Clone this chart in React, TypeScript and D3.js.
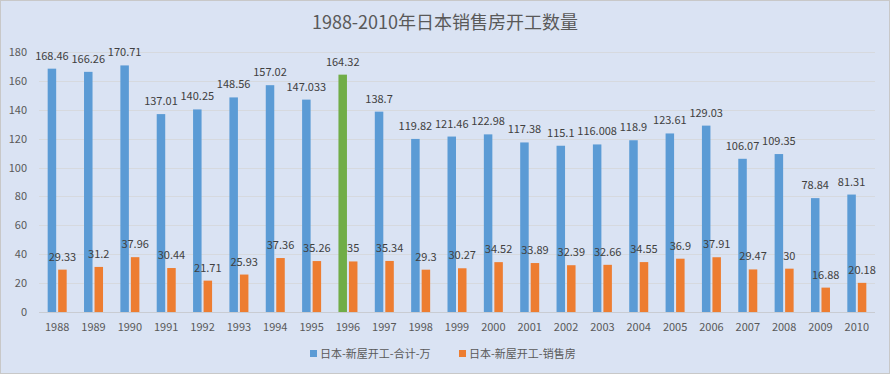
import React, { useEffect, useRef } from "react";
import * as d3 from "d3";

const years = ["1988", "1989", "1990", "1991", "1992", "1993", "1994", "1995", "1996", "1997", "1998", "1999", "2000", "2001", "2002", "2003", "2004", "2005", "2006", "2007", "2008", "2009", "2010"];
const totalStarts = [168.46, 166.26, 170.71, 137.01, 140.25, 148.56, 157.02, 147.033, 164.32, 138.7, 119.82, 121.46, 122.98, 117.38, 115.1, 116.008, 118.9, 123.61, 129.03, 106.07, 109.35, 78.84, 81.31];
const salesStarts = [29.33, 31.2, 37.96, 30.44, 21.71, 25.93, 37.36, 35.26, 35, 35.34, 29.3, 30.27, 34.52, 33.89, 32.39, 32.66, 34.55, 36.9, 37.91, 29.47, 30, 16.88, 20.18];
const yTicks = [0, 20, 40, 60, 80, 100, 120, 140, 160, 180];
const seriesNames = ["日本-新屋开工-合计-万", "日本-新屋开工-销售房"];
const highlightYear = "1996";

const FONT = "'Noto Sans CJK SC', 'Noto Sans', sans-serif";

export default function App() {
    const svgRef = useRef(null);
    const width = 890;
    const height = 374;

    useEffect(() => {
        const margin = { top: 52, right: 15, bottom: 62, left: 39 };
        const svg = d3.select(svgRef.current);
        svg.selectAll("*").remove();

        // background + border
        svg.append("rect")
            .attr("x", 0.5).attr("y", 0.5)
            .attr("width", width - 1).attr("height", height - 1)
            .attr("fill", "#dae3f3")
            .attr("stroke", "#c8c8c8");

        const xScale = d3.scaleBand()
            .domain(years)
            .range([margin.left, width - margin.right]);

        const yScale = d3.scaleLinear()
            .domain([0, 180])
            .range([height - margin.bottom, margin.top]);

        // gridlines
        svg.append("g")
            .selectAll("line")
            .data(yTicks)
            .join("line")
            .attr("x1", margin.left)
            .attr("x2", width - margin.right)
            .attr("y1", d => Math.round(yScale(d)) + 0.5)
            .attr("y2", d => Math.round(yScale(d)) + 0.5)
            .attr("stroke", d => d === 0 ? "#c9ccd2" : "#d6d9de")
            .attr("stroke-width", 1);

        // y axis labels
        svg.append("g")
            .selectAll("text")
            .data(yTicks)
            .join("text")
            .attr("x", 27)
            .attr("y", d => yScale(d) + 4)
            .attr("text-anchor", "end")
            .style("font-family", FONT)
            .style("font-size", "11px")
            .attr("fill", "#595959")
            .text(d => d);

        // x axis labels
        svg.append("g")
            .selectAll("text")
            .data(years)
            .join("text")
            .attr("x", d => xScale(d) + xScale.bandwidth() / 2)
            .attr("y", height - margin.bottom + 19)
            .attr("text-anchor", "middle")
            .style("font-family", FONT)
            .style("font-size", "11px")
            .attr("fill", "#595959")
            .text(d => d);

        const barW = 8.5;
        const gap = 2;
        const center = (d) => xScale(d) + xScale.bandwidth() / 2;

        const rows = years.map((y, i) => ({ year: y, total: totalStarts[i], sales: salesStarts[i] }));

        // blue bars
        svg.append("g")
            .selectAll("rect")
            .data(rows)
            .join("rect")
            .attr("x", d => center(d.year) - gap / 2 - barW)
            .attr("y", d => yScale(d.total))
            .attr("width", barW)
            .attr("height", d => yScale(0) - yScale(d.total))
            .attr("fill", d => d.year === highlightYear ? "#70ad47" : "#5b9bd5");

        // orange bars
        svg.append("g")
            .selectAll("rect")
            .data(rows)
            .join("rect")
            .attr("x", d => center(d.year) + gap / 2)
            .attr("y", d => yScale(d.sales))
            .attr("width", barW)
            .attr("height", d => yScale(0) - yScale(d.sales))
            .attr("fill", "#ed7d31");

        // value labels
        svg.append("g")
            .selectAll("text")
            .data(rows)
            .join("text")
            .attr("x", d => center(d.year) - gap / 2 - barW / 2)
            .attr("y", d => yScale(d.total) - 9)
            .attr("text-anchor", "middle")
            .style("font-family", FONT)
            .style("font-size", "11px")
            .attr("fill", "#404040")
            .text(d => d.total);

        svg.append("g")
            .selectAll("text")
            .data(rows)
            .join("text")
            .attr("x", d => center(d.year) + gap / 2 + barW / 2)
            .attr("y", d => yScale(d.sales) - 9)
            .attr("text-anchor", "middle")
            .style("font-family", FONT)
            .style("font-size", "11px")
            .attr("fill", "#404040")
            .text(d => d.sales);

        // title
        svg.append("text")
            .attr("x", width / 2)
            .attr("y", 29)
            .attr("text-anchor", "middle")
            .style("font-family", FONT)
            .style("font-size", "18px")
            .attr("fill", "#595959")
            .text("1988-2010年日本销售房开工数量");

        // legend
        const legend = svg.append("g");
        const legendItems = [
            { name: seriesNames[0], color: "#5b9bd5", x: 310 },
            { name: seriesNames[1], color: "#ed7d31", x: 459 },
        ];
        legendItems.forEach(item => {
            legend.append("rect")
                .attr("x", item.x)
                .attr("y", 350)
                .attr("width", 7)
                .attr("height", 7)
                .attr("fill", item.color);
            legend.append("text")
                .attr("x", item.x + 10)
                .attr("y", 358)
                .style("font-family", FONT)
                .style("font-size", "11px")
                .attr("fill", "#595959")
                .text(item.name);
        });
    }, []);

    return (
        <div style={{ position: "fixed", left: 0, top: 0 }}>
            <svg ref={svgRef} width={width} height={height} />
        </div>
    );
}
